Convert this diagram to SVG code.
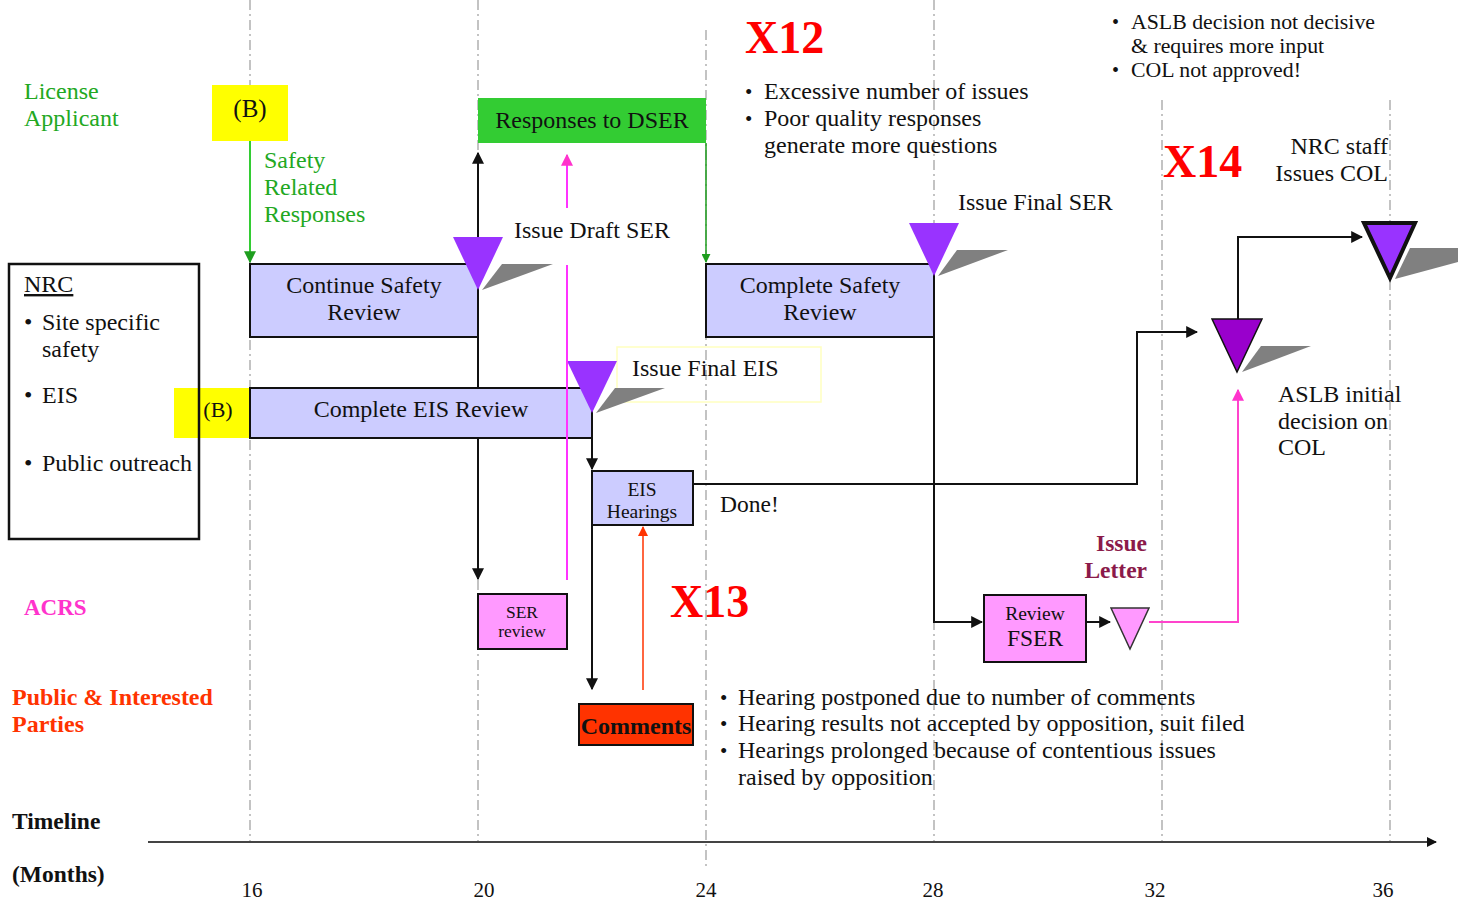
<svg xmlns="http://www.w3.org/2000/svg" width="1458" height="903" viewBox="0 0 1458 903">
  <defs>
    <style>
      text { font-family: "Liberation Serif", "Times New Roman", serif; fill: #111; }
      .t20 { font-size: 24px; }
      .tick { font-size: 21px; }
      .green { fill: #22a822; font-size: 24px; }
      .mid { text-anchor: middle; }
      .end { text-anchor: end; }
      .bold { font-weight: bold; }
      .xmark { fill: #ff0000; font-size: 46px; font-weight: bold; }
      .grid { stroke: #b0b0b0; stroke-width: 1.5; stroke-dasharray: 10 4 2 4; fill: none; }
      .box { stroke: #111; stroke-width: 2; }
      .lav { fill: #ccccff; }
      .pink { fill: #ff99ff; }
      .conn { stroke: #111; stroke-width: 2; fill: none; }
      .shadow { fill: #808080; }
      .tri { fill: #9933ff; }
    </style>
    <marker id="arrBlack" viewBox="0 0 10 10" refX="9" refY="5" markerWidth="6" markerHeight="6" orient="auto" markerUnits="strokeWidth">
      <path d="M0,0 L10,5 L0,10 z" fill="#111"/>
    </marker>
    <marker id="arrGreen" viewBox="0 0 10 10" refX="9" refY="5" markerWidth="6" markerHeight="6" orient="auto" markerUnits="strokeWidth">
      <path d="M0,0 L10,5 L0,10 z" fill="#1e9e1e"/>
    </marker>
    <marker id="arrPink" viewBox="0 0 10 10" refX="9" refY="5" markerWidth="6" markerHeight="6" orient="auto" markerUnits="strokeWidth">
      <path d="M0,0 L10,5 L0,10 z" fill="#ff33cc"/>
    </marker>
    <marker id="arrRed" viewBox="0 0 10 10" refX="9" refY="5" markerWidth="7" markerHeight="7" orient="auto" markerUnits="strokeWidth">
      <path d="M0,0 L10,5 L0,10 z" fill="#ff3300"/>
    </marker>
    <marker id="arrAxis" viewBox="0 0 10 10" refX="9" refY="5" markerWidth="5" markerHeight="5" orient="auto" markerUnits="strokeWidth">
      <path d="M0,0 L10,5 L0,10 z" fill="#111"/>
    </marker>
  </defs>

  <rect width="1458" height="903" fill="#ffffff"/>

  <!-- month grid lines -->
  <g id="grid">
    <line class="grid" x1="250" y1="0" x2="250" y2="842"/>
    <line class="grid" x1="478" y1="0" x2="478" y2="842"/>
    <line class="grid" x1="706" y1="30" x2="706" y2="870"/>
    <line class="grid" x1="934" y1="0" x2="934" y2="842"/>
    <line class="grid" x1="1162" y1="100" x2="1162" y2="842"/>
    <line class="grid" x1="1390" y1="100" x2="1390" y2="842"/>
  </g>

  <!-- timeline axis -->
  <g id="axis">
    <line x1="148" y1="842" x2="1436" y2="842" stroke="#444" stroke-width="2" marker-end="url(#arrAxis)"/>
    <text x="252" y="897" class="tick mid">16</text>
    <text x="484" y="897" class="tick mid">20</text>
    <text x="706" y="897" class="tick mid">24</text>
    <text x="933" y="897" class="tick mid">28</text>
    <text x="1155" y="897" class="tick mid">32</text>
    <text x="1383" y="897" class="tick mid">36</text>
    <text x="12" y="829" class="bold" style="font-size:23.5px">Timeline</text>
    <text x="12" y="882" class="bold" style="font-size:23.5px">(Months)</text>
  </g>

  <!-- swim lane labels -->
  <g id="lane-applicant">
    <text x="24" y="99" class="green">License</text>
    <text x="24" y="126" class="green">Applicant</text>
  </g>
  <g id="lane-acrs">
    <text x="24" y="615" class="bold" style="fill:#ff33cc;font-size:23px">ACRS</text>
  </g>
  <g id="lane-public">
    <text x="12" y="705" class="t20 bold" style="fill:#ff3300">Public &amp; Interested</text>
    <text x="12" y="732" class="t20 bold" style="fill:#ff3300">Parties</text>
  </g>

  <!-- (B) applicant input, EIS side -->
  <g id="b-eis">
    <rect x="174" y="388" width="76" height="50" fill="#ffff00"/>
    <text x="218" y="417" class="mid" style="font-size:22px">(B)</text>
  </g>

  <!-- NRC scope box -->
  <g id="nrc">
    <rect x="9" y="264" width="190" height="275" fill="none" stroke="#111" stroke-width="2.5"/>
    <text x="24" y="292" class="t20" text-decoration="underline">NRC</text>
    <text x="24" y="330" class="t20">•</text>
    <text x="42" y="330" class="t20">Site specific</text>
    <text x="42" y="357" class="t20">safety</text>
    <text x="24" y="403" class="t20">•</text>
    <text x="42" y="403" class="t20">EIS</text>
    <text x="24" y="471" class="t20">•</text>
    <text x="42" y="471" class="t20">Public outreach</text>
  </g>

  <!-- connectors -->
  <g id="connectors">
    <line x1="250" y1="141" x2="250" y2="262" stroke="#33cc33" stroke-width="2" marker-end="url(#arrGreen)"/>
    <line x1="706" y1="143" x2="706" y2="262" stroke="#1e9e1e" stroke-width="1.5" marker-end="url(#arrGreen)"/>
    <line class="conn" x1="478" y1="240" x2="478" y2="153" marker-end="url(#arrBlack)"/>
    <line class="conn" x1="478" y1="337" x2="478" y2="579" marker-end="url(#arrBlack)"/>
    <line x1="567" y1="208" x2="567" y2="155" stroke="#ff33ff" stroke-width="2" marker-end="url(#arrPink)"/>
    <line class="conn" x1="592" y1="438" x2="592" y2="469" marker-end="url(#arrBlack)"/>
    <line class="conn" x1="592" y1="525" x2="592" y2="689" marker-end="url(#arrBlack)"/>
    <line x1="643" y1="690" x2="643" y2="527" stroke="#ff3300" stroke-width="1.5" marker-end="url(#arrRed)"/>
    <polyline class="conn" points="693,484 1137,484 1137,332 1197,332" marker-end="url(#arrBlack)"/>
    <polyline class="conn" points="934,337 934,622 982,622" marker-end="url(#arrBlack)"/>
    <line class="conn" x1="1086" y1="622" x2="1110" y2="622" marker-end="url(#arrBlack)"/>
    <polyline points="1149,622 1238,622 1238,390" fill="none" stroke="#ff44cc" stroke-width="2" marker-end="url(#arrPink)"/>
    <polyline class="conn" points="1238,320 1238,237 1362,237" marker-end="url(#arrBlack)"/>
  </g>

  <!-- applicant (B) -->
  <g id="b-safety">
    <rect x="212" y="85" width="76" height="56" fill="#ffff00"/>
    <text x="250" y="117" class="mid" style="font-size:25px">(B)</text>
  </g>
  <g id="safety-responses-label">
    <text x="264" y="168" class="green">Safety</text>
    <text x="264" y="195" class="green">Related</text>
    <text x="264" y="222" class="green">Responses</text>
  </g>

  <!-- responses to DSER -->
  <g id="responses-dser">
    <rect x="478" y="98" width="228" height="45" fill="#33cc33"/>
    <text x="592" y="128" class="t20 mid">Responses to DSER</text>
  </g>

  <!-- continue safety review -->
  <g id="continue-safety">
    <rect x="250" y="264" width="228" height="73" class="box lav"/>
    <text x="364" y="293" class="t20 mid">Continue Safety</text>
    <text x="364" y="320" class="t20 mid">Review</text>
  </g>
  <g id="ms-draft-ser">
    <polygon class="shadow" points="482,290 502,264 553,264"/>
    <polygon class="tri" points="453,237 503,237 478,290"/>
    <text x="514" y="238" class="t20">Issue Draft SER</text>
  </g>

  <!-- complete safety review -->
  <g id="complete-safety">
    <rect x="706" y="264" width="228" height="73" class="box lav"/>
    <text x="820" y="293" class="t20 mid">Complete Safety</text>
    <text x="820" y="320" class="t20 mid">Review</text>
  </g>
  <g id="ms-final-ser">
    <polygon class="shadow" points="938,276 957,250 1008,250"/>
    <polygon class="tri" points="909,223 959,223 934,276"/>
    <text x="958" y="210" class="t20">Issue Final SER</text>
  </g>

  <!-- complete EIS review -->
  <g id="complete-eis">
    <rect x="250" y="388" width="342" height="50" class="box lav"/>
    <text x="421" y="417" class="t20 mid">Complete EIS Review</text>
  </g>
  <g id="ms-final-eis">
    <rect x="617" y="347" width="204" height="55" fill="none" stroke="#ffffc0" stroke-width="1.5"/>
    <polygon class="shadow" points="596,413 615,388 665,388"/>
    <polygon class="tri" points="567,361 617,361 592,413"/>
    <text x="632" y="376" class="t20">Issue Final EIS</text>
  </g>
  <!-- ACRS return line drawn over the EIS bar -->
  <line x1="567" y1="265" x2="567" y2="580" stroke="#ff33ff" stroke-width="2"/>

  <!-- EIS hearings -->
  <g id="eis-hearings">
    <rect x="592" y="471" width="101" height="54" class="box lav"/>
    <text x="642" y="496" class="mid" style="font-size:19.5px">EIS</text>
    <text x="642" y="518" class="mid" style="font-size:19.5px">Hearings</text>
    <text x="720" y="512" style="font-size:23.5px">Done!</text>
  </g>

  <!-- SER review -->
  <g id="ser-review">
    <rect x="478" y="594" width="89" height="55" class="box pink"/>
    <text x="522" y="618" class="mid" style="font-size:17.5px">SER</text>
    <text x="522" y="637" class="mid" style="font-size:17.5px">review</text>
  </g>

  <!-- comments -->
  <g id="comments">
    <rect x="579" y="704" width="114" height="41" class="box" fill="#ff3300"/>
    <text x="636" y="734" class="mid bold" style="font-size:24px">Comments</text>
  </g>

  <!-- review FSER and issue letter -->
  <g id="review-fser">
    <rect x="984" y="595" width="102" height="67" class="box pink"/>
    <text x="1035" y="620" class="mid" style="font-size:19.5px">Review</text>
    <text x="1035" y="646" class="mid" style="font-size:23.5px">FSER</text>
  </g>
  <g id="ms-issue-letter">
    <polygon points="1111,608 1149,608 1130,649" fill="#ff99ff" stroke="#333" stroke-width="1.5"/>
    <text x="1147" y="551" class="bold end" style="fill:#8b1a4a;font-size:23.5px">Issue</text>
    <text x="1147" y="578" class="bold end" style="fill:#8b1a4a;font-size:23.5px">Letter</text>
  </g>

  <!-- ASLB initial decision -->
  <g id="ms-aslb">
    <polygon class="shadow" points="1242,372 1261,346 1311,346"/>
    <polygon points="1212,319 1262,319 1237,372" fill="#9900cc" stroke="#111" stroke-width="1.5"/>
    <text x="1278" y="402" class="t20">ASLB initial</text>
    <text x="1278" y="429" class="t20">decision on</text>
    <text x="1278" y="455" class="t20">COL</text>
  </g>

  <!-- COL issued -->
  <g id="ms-col">
    <polygon class="shadow" points="1395,279 1410,248 1458,248 1458,262"/>
    <polygon points="1364,223 1415,223 1390,278" fill="#9933ff" stroke="#111" stroke-width="4"/>
    <text x="1388" y="154" class="t20 end">NRC staff</text>
    <text x="1388" y="181" class="t20 end">Issues COL</text>
  </g>

  <!-- risk callouts -->
  <g id="x12">
    <text x="745" y="53" class="xmark">X12</text>
    <text x="745" y="99" style="font-size:21px">•</text>
    <text x="764" y="99" class="t20">Excessive number of issues</text>
    <text x="745" y="126" style="font-size:21px">•</text>
    <text x="764" y="126" class="t20">Poor quality responses</text>
    <text x="764" y="153" class="t20">generate more questions</text>
  </g>
  <g id="x13">
    <text x="670" y="617" class="xmark">X13</text>
    <text x="720" y="705" style="font-size:21px">•</text>
    <text x="738" y="705" class="t20">Hearing postponed due to number of comments</text>
    <text x="720" y="731" style="font-size:21px">•</text>
    <text x="738" y="731" class="t20">Hearing results not accepted by opposition, suit filed</text>
    <text x="720" y="758" style="font-size:21px">•</text>
    <text x="738" y="758" class="t20">Hearings prolonged because of contentious issues</text>
    <text x="738" y="785" class="t20">raised by opposition</text>
  </g>
  <g id="x14">
    <text x="1163" y="177" class="xmark">X14</text>
    <text x="1112" y="29" style="font-size:20px">•</text>
    <text x="1131" y="29" style="font-size:21.8px">ASLB decision not decisive</text>
    <text x="1131" y="53" style="font-size:21.8px">&amp; requires more input</text>
    <text x="1112" y="77" style="font-size:20px">•</text>
    <text x="1131" y="77" style="font-size:21.8px">COL not approved!</text>
  </g>
</svg>
